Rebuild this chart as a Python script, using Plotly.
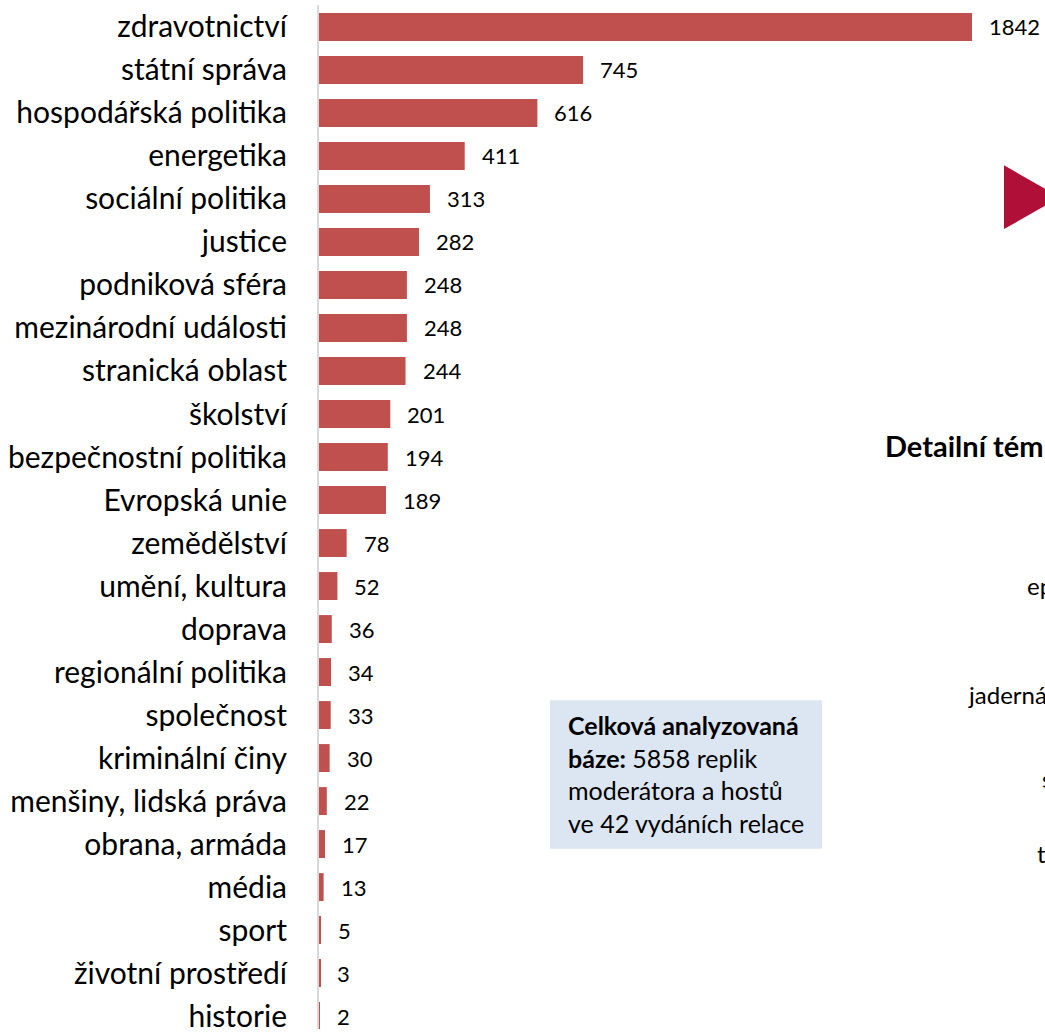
import plotly.graph_objects as go

categories = ["zdravotnictví", "státní správa", "hospodářská politika", "energetika",
              "sociální politika", "justice", "podniková sféra", "mezinárodní události",
              "stranická oblast", "školství", "bezpečnostní politika", "Evropská unie",
              "zemědělství", "umění, kultura", "doprava", "regionální politika",
              "společnost", "kriminální činy", "menšiny, lidská práva", "obrana, armáda",
              "média", "sport", "životní prostředí", "historie"]
values = [1842, 745, 616, 411, 313, 282, 248, 248, 244, 201, 194, 189,
          78, 52, 36, 34, 33, 30, 22, 17, 13, 5, 3, 2]

W, H = 1045, 1033
L, T = 319, 5
PW, PH = W - L, H - T

def px(x):
    return (x - L) / PW

def py(y):
    return 1 - (y - T) / PH

FONT = "Lato"
idx = list(range(len(categories)))

fig = go.Figure()
fig.add_trace(go.Bar(
    x=values, y=idx, orientation="h",
    marker=dict(color="#C0504D", line=dict(width=0)),
    width=0.65, hoverinfo="x+y",
))

for i, v in zip(idx, values):
    fig.add_annotation(x=v, y=i, xref="x", yref="y", text=str(v), showarrow=False,
                       xanchor="left", xshift=15, font=dict(family=FONT, size=22, color="#000"))

# info box
fig.add_shape(type="rect", xref="paper", yref="paper",
              x0=px(550), x1=px(822), y0=py(852), y1=py(703),
              fillcolor="#DCE6F2", line=dict(width=0), layer="below")
fig.add_annotation(xref="paper", yref="paper", x=px(566), y=py(777), xanchor="left", yanchor="middle",
                   align="left", showarrow=False,
                   text="<b>Celková analyzovaná<br>báze:</b> 5858 replik<br>moderátora a hostů<br>ve 42 vydáních relace",
                   font=dict(family=FONT, size=25, color="#000"))

# triangle (cut off) at right
fig.add_shape(type="path", xref="paper", yref="paper",
              path=f"M {px(1004)} {py(166)} L {px(1004)} {py(230)} L {px(1060)} {py(198)} Z",
              fillcolor="#B01038", line=dict(width=0))

# fragments of neighbouring chart
frags = [("<b>Detailní tém</b>", 883, 447, 29), ("ep", 1025, 588, 24), ("jaderná", 966, 697, 24),
         ("s", 1040, 782, 24), ("t", 1035, 857, 24)]
for t, x, y, s in frags:
    fig.add_annotation(xref="paper", yref="paper", x=px(x), y=py(y), xanchor="left",
                       yanchor="middle", showarrow=False, text=t,
                       font=dict(family=FONT, size=s, color="#000"))

fig.update_layout(
    width=W, height=H, margin=dict(l=L, r=0, t=T, b=0),
    paper_bgcolor="white", plot_bgcolor="white", showlegend=False,
    xaxis=dict(range=[0, PW / ((972 - 319) / 1842)], showgrid=False, zeroline=False,
               showticklabels=False, ticks="", fixedrange=True),
    yaxis=dict(tickvals=idx, ticktext=categories, range=[23.30, -0.51],
               showgrid=False, zeroline=False, showline=True, linecolor="#D9D9D9", linewidth=2,
               ticks="outside", ticklen=24, tickcolor="rgba(0,0,0,0)",
               ticklabeloverflow="allow",
               tickfont=dict(family=FONT, size=30, color="#000")),
)
fig.write_html("out.html", config={"displayModeBar": False},
               post_script="document.body.style.margin='0';document.body.style.overflow='hidden';")
